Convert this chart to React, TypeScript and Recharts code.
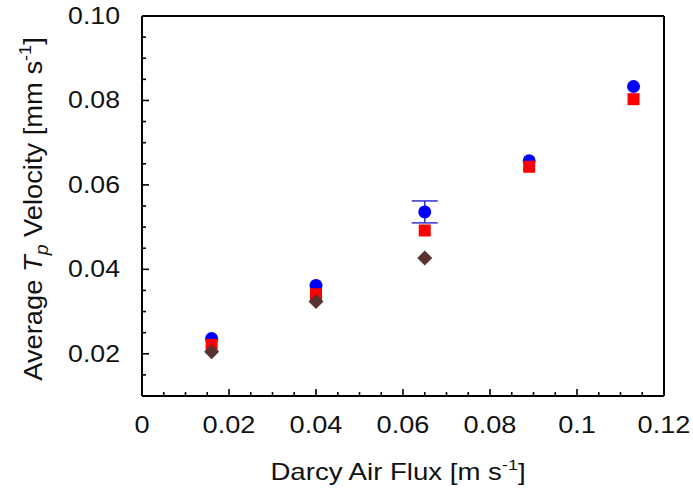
import React from 'react';
import { ScatterChart, Scatter, XAxis, YAxis, ErrorBar, ReferenceLine } from 'recharts';

// Darcy air flux [m s-1]
const fluxX = [0.016, 0.04, 0.065, 0.089, 0.113];
// Blue circles
const blueVel = [0.0236, 0.0362, 0.0536, 0.0657, 0.0833];
const blueErr = [null, null, 0.0026, null, null];
// Red squares
const redVel = [0.0221, 0.0341, 0.0492, 0.0643, 0.0803];
// Brown diamonds
const diamondX = [0.016, 0.04, 0.065];
const diamondVel = [0.0205, 0.0324, 0.0427];

const xTicks = [
  0, 0.005, 0.01, 0.015, 0.02, 0.025, 0.03, 0.035, 0.04, 0.045, 0.05, 0.055, 0.06,
  0.065, 0.07, 0.075, 0.08, 0.085, 0.09, 0.095, 0.1, 0.105, 0.11, 0.115, 0.12,
];
const yTicks = [
  0.01, 0.015, 0.02, 0.025, 0.03, 0.035, 0.04, 0.045, 0.05, 0.055, 0.06, 0.065,
  0.07, 0.075, 0.08, 0.085, 0.09, 0.095, 0.1,
];

const blueData = fluxX.map((x, i) => ({ x, y: blueVel[i], err: blueErr[i] }));
const redData = fluxX.map((x, i) => ({ x, y: redVel[i] }));
const diamondData = diamondX.map((x, i) => ({ x, y: diamondVel[i] }));

const FONT = '"Liberation Sans", Arial, sans-serif';

const isMajor = (v: number) => Math.abs(v / 0.02 - Math.round(v / 0.02)) < 1e-6;

const XTick = (props: any) => {
  const { x, y, payload } = props;
  const v = payload.value as number;
  const major = isMajor(v);
  return (
    <g>
      <line x1={x} x2={x} y1={y} y2={y - (major ? 7 : 4)} stroke="#000" strokeWidth={1.6} />
      {major && (
        <text
          transform={`translate(${x},${y + 37}) scale(1.18,1)`}
          textAnchor="middle"
          fontSize={23}
          fontFamily={FONT}
          fill="#111"
        >
          {String(Number(v.toFixed(3)))}
        </text>
      )}
    </g>
  );
};

const YTick = (props: any) => {
  const { x, y, payload } = props;
  const v = payload.value as number;
  const major = isMajor(v);
  const showLabel = major && v > 0.015;
  return (
    <g>
      <line x1={x} x2={x + (major ? 7 : 4)} y1={y} y2={y} stroke="#000" strokeWidth={1.6} />
      {showLabel && (
        <text
          transform={`translate(${x - 22},${y + 8}) scale(1.16,1)`}
          textAnchor="end"
          fontSize={23}
          fontFamily={FONT}
          fill="#111"
        >
          {v.toFixed(2)}
        </text>
      )}
    </g>
  );
};

const XTitle = (props: any) => {
  const vb = props.viewBox || {};
  const cx = vb.x + vb.width / 2 - 5;
  return (
    <text
      transform={`translate(${cx},${vb.y + 84}) scale(1.2,1)`}
      textAnchor="middle"
      fontSize={23}
      fontFamily={FONT}
      fill="#111"
    >
      Darcy Air Flux [m s<tspan fontSize={15} dy={-10}>-1</tspan>
      <tspan dy={10}>]</tspan>
    </text>
  );
};

const YTitle = (props: any) => {
  const vb = props.viewBox || {};
  const cy = vb.y + vb.height / 2 + 3;
  return (
    <text
      transform={`translate(42,${cy}) rotate(-90) scale(1.3,1.2)`}
      textAnchor="middle"
      fontSize={21}
      fontFamily={FONT}
      fill="#111"
    >
      Average{' '}
      <tspan fontStyle="italic">T</tspan>
      <tspan fontStyle="italic" fontSize={15} dy={5}>p</tspan>
      <tspan dy={-5}> Velocity [mm s</tspan>
      <tspan fontSize={14} dy={-9}>-1</tspan>
      <tspan dy={9}>]</tspan>
    </text>
  );
};

const CircleShape = (p: any) => <circle cx={p.cx} cy={p.cy} r={6.5} fill="#0000ff" />;
const SquareShape = (p: any) => (
  <rect x={p.cx - 6} y={p.cy - 6} width={12} height={12} fill="#ff0000" />
);
const DiamondShape = (p: any) => (
  <polygon
    points={`${p.cx},${p.cy - 7.5} ${p.cx + 7.5},${p.cy} ${p.cx},${p.cy + 7.5} ${p.cx - 7.5},${p.cy}`}
    fill="#5b3232"
  />
);

export default function App() {
  return (
    <div style={{ position: 'absolute', left: 0, top: 0, width: 693, height: 491, background: '#fff' }}>
      <ScatterChart width={693} height={491} margin={{ top: 16, right: 29, bottom: 35, left: 42 }}>
        <XAxis
          type="number"
          dataKey="x"
          domain={[0, 0.12]}
          ticks={xTicks}
          interval={0}
          tickLine={false}
          tickSize={0}
          tickMargin={0}
          height={60}
          axisLine={{ stroke: '#000', strokeWidth: 2 }}
          tick={(p: any) => <XTick {...p} />}
          allowDataOverflow
          label={<XTitle />}
        />
        <YAxis
          type="number"
          dataKey="y"
          domain={[0.01, 0.1]}
          ticks={yTicks}
          interval={0}
          tickLine={false}
          tickSize={0}
          tickMargin={0}
          width={100}
          axisLine={{ stroke: '#000', strokeWidth: 2 }}
          tick={(p: any) => <YTick {...p} />}
          allowDataOverflow
          label={<YTitle />}
        />
        <ReferenceLine y={0.1} stroke="#000" strokeWidth={2} />
        <ReferenceLine x={0.12} stroke="#000" strokeWidth={2} />
        <Scatter data={blueData} shape={<CircleShape />} isAnimationActive={false}>
          <ErrorBar dataKey="err" direction="y" width={13} stroke="#3030d0" strokeWidth={1.5} />
        </Scatter>
        <Scatter data={redData} shape={<SquareShape />} isAnimationActive={false} />
        <Scatter data={diamondData} shape={<DiamondShape />} isAnimationActive={false} />
      </ScatterChart>
    </div>
  );
}
